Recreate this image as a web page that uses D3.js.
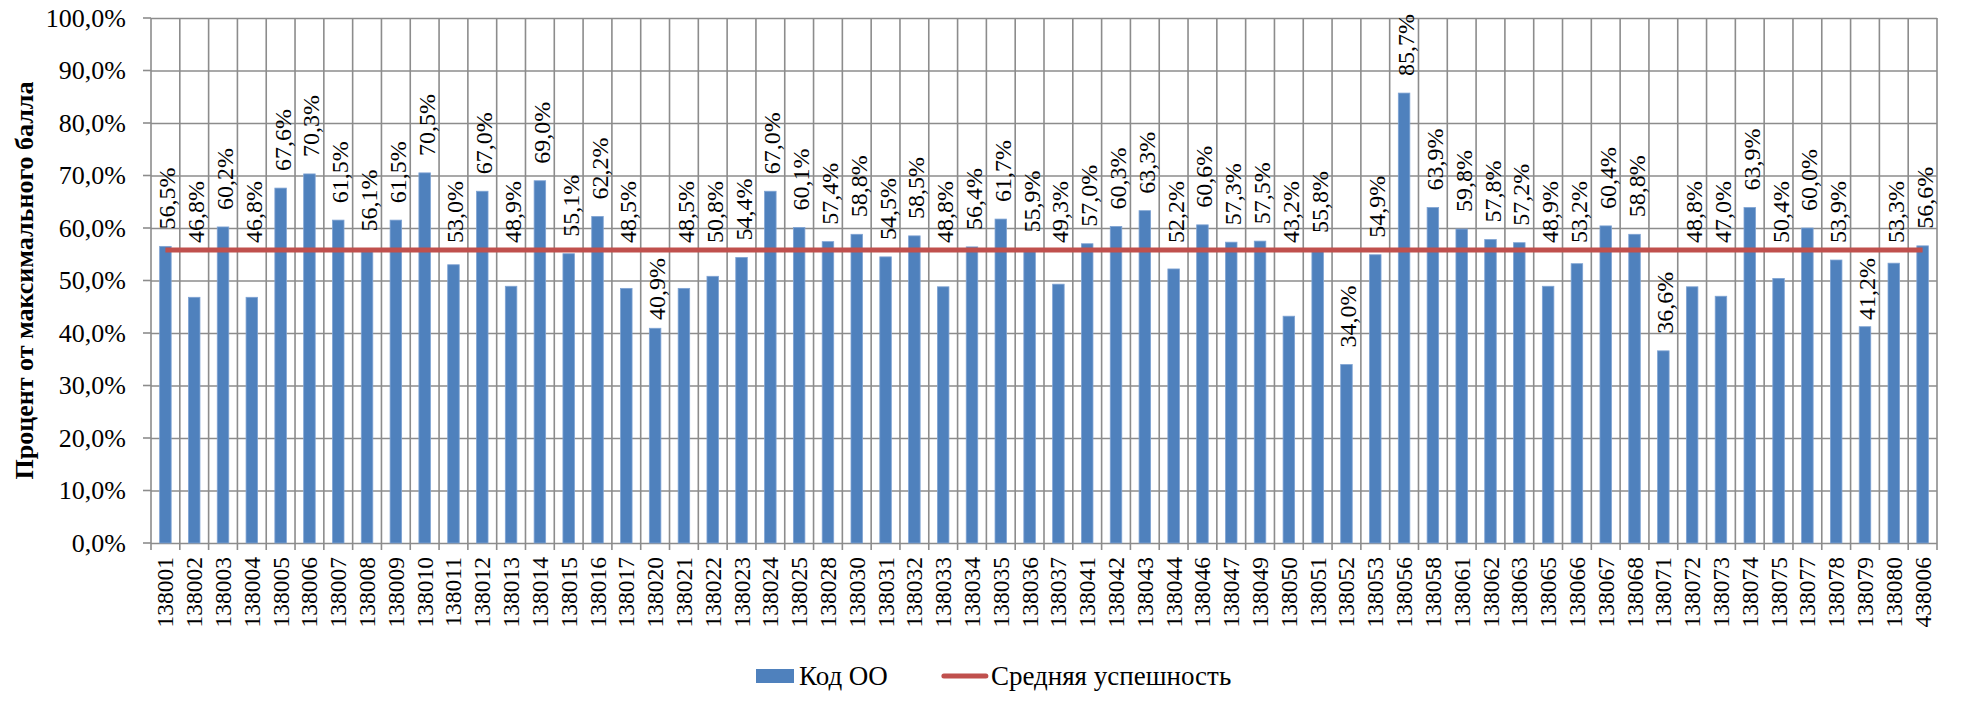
<!DOCTYPE html>
<html>
<head>
<meta charset="utf-8">
<script src="https://cdn.jsdelivr.net/npm/d3@7"></script>
<style>
  body { margin: 0; background: #fff; }
  text { font-family: "Liberation Serif", "Times New Roman", "DejaVu Serif", serif; }
</style>
</head>
<body>
<svg width="1974" height="710"></svg>
<script>
// school codes
var codes = ["138001","138002","138003","138004","138005","138006","138007","138008","138009","138010",
  "138011","138012","138013","138014","138015","138016","138017","138020","138021","138022",
  "138023","138024","138025","138028","138030","138031","138032","138033","138034","138035",
  "138036","138037","138041","138042","138043","138044","138046","138047","138049","138050",
  "138051","138052","138053","138056","138058","138061","138062","138063","138065","138066",
  "138067","138068","138071","138072","138073","138074","138075","138077","138078","138079",
  "138080","438006"];

// percent of max score
var scores = [56.5,46.8,60.2,46.8,67.6,70.3,61.5,56.1,61.5,70.5,
  53.0,67.0,48.9,69.0,55.1,62.2,48.5,40.9,48.5,50.8,
  54.4,67.0,60.1,57.4,58.8,54.5,58.5,48.8,56.4,61.7,
  55.9,49.3,57.0,60.3,63.3,52.2,60.6,57.3,57.5,43.2,
  55.8,34.0,54.9,85.7,63.9,59.8,57.8,57.2,48.9,53.2,
  60.4,58.8,36.6,48.8,47.0,63.9,50.4,60.0,53.9,41.2,
  53.3,56.6];

// average line value
var average = 55.8;

var yTicks = [0,10,20,30,40,50,60,70,80,90,100];
var seriesNames = ["Код ОО", "Средняя успешность"];

var FONT = "Liberation Serif, Times New Roman, DejaVu Serif, serif";

function main() {
  var svg = d3.select("svg").attr("font-family", FONT);
  var left = 151, right = 1937, top = 18, bottom = 543;
  var gridColor = "#8c8c8c";
  var blue = "#4f81bd", red = "#c0504d";
  var fmt = function(v) { return v.toFixed(1).replace(".", ",") + "%"; };

  var x = d3.scaleBand().domain(codes).range([left, right]).paddingInner(0).paddingOuter(0);
  var y = d3.scaleLinear().domain([0, 100]).range([bottom, top]);

  var data = codes.map(function(c, i) { return {code: c, value: scores[i]}; });

  // horizontal grid + y ticks
  svg.append("g")
    .attr("transform", "translate(" + left + ",0)")
    .call(d3.axisLeft(y).tickValues(yTicks).tickSize(-(right - left)).tickSizeOuter(0)
      .tickFormat(function(d) { return d.toFixed(1).replace(".", ",") + "%"; }))
    .call(function(g) {
      g.attr("font-family", FONT).attr("font-size", null);
      g.select(".domain").remove();
      g.selectAll(".tick line").attr("stroke", gridColor).attr("stroke-width", 1.6);
      g.selectAll(".tick text").attr("x", -25).attr("font-size", "26px")
        .attr("fill", "#000");
    });
  // small left tick stubs
  svg.append("g").selectAll("line").data(yTicks).enter().append("line")
    .attr("x1", left - 8).attr("x2", left)
    .attr("y1", function(d) { return y(d); }).attr("y2", function(d) { return y(d); })
    .attr("stroke", gridColor).attr("stroke-width", 1.6);

  // vertical grid lines at category boundaries
  var bounds = codes.map(function(c) { return x(c); }).concat([right]);
  svg.append("g").selectAll("line").data(bounds).enter().append("line")
    .attr("x1", function(d) { return d; }).attr("x2", function(d) { return d; })
    .attr("y1", top).attr("y2", bottom + 7)
    .attr("stroke", gridColor).attr("stroke-width", 1.6);

  // bars
  var bw = x.bandwidth() * 0.4;
  svg.append("g").selectAll("rect").data(data).enter().append("rect")
    .attr("x", function(d) { return x(d.code) + (x.bandwidth() - bw) / 2; })
    .attr("y", function(d) { return y(d.value); })
    .attr("width", bw)
    .attr("height", function(d) { return bottom - y(d.value); })
    .attr("fill", blue)
    .attr("stroke", "#7fa3d3").attr("stroke-width", 0.8);

  // average line
  var line = d3.line()
    .x(function(d) { return x(d) + x.bandwidth() / 2; })
    .y(function() { return y(average); });
  svg.append("path")
    .datum(codes)
    .attr("d", line)
    .attr("fill", "none")
    .attr("stroke", red)
    .attr("stroke-width", 5);

  // data labels (rotated), kept off the average line
  var lineY = y(average);
  var labels = svg.append("g");
  data.forEach(function(d) {
    var cx = x(d.code) + x.bandwidth() / 2;
    var t = labels.append("text")
      .attr("font-size", "24px")
      .attr("fill", "#000")
      .text(fmt(d.value));
    var len = t.node().getComputedTextLength();
    var barTop = y(d.value);
    var b = barTop - 17;
    var tp = b - len;
    if (tp < lineY + 5 && b > lineY - 5) {
      if (barTop - 4 - len >= lineY + 6) {
        b = Math.min(lineY + 8 + len, barTop - 6);
      } else {
        b = lineY - 7;
      }
    }
    t.attr("transform", "translate(" + (cx + 10) + "," + b + ") rotate(-90)");
  });

  // x labels
  svg.append("g").selectAll("text").data(codes).enter().append("text")
    .attr("transform", function(d) {
      return "translate(" + (x(d) + x.bandwidth() / 2 + 8) + "," + (bottom + 14) + ") rotate(-90)";
    })
    .attr("text-anchor", "end")
    .attr("font-size", "23.5px")
    .attr("fill", "#000")
    .text(function(d) { return d; });

  // y axis title
  svg.append("text")
    .attr("transform", "translate(33," + ((top + bottom) / 2) + ") rotate(-90)")
    .attr("text-anchor", "middle")
    .attr("font-size", "26px")
    .attr("font-weight", "bold")
    .text("Процент от максимального балла");

  // legend
  var lg = svg.append("g");
  var ly = 676;
  lg.append("rect").attr("x", 756).attr("y", ly - 7).attr("width", 38).attr("height", 14).attr("fill", blue);
  var t1 = lg.append("text").attr("x", 799).attr("y", ly + 9).attr("font-size", "27px").text(seriesNames[0]);
  var x2 = 799 + t1.node().getComputedTextLength() + 56;
  lg.append("line").attr("x1", x2).attr("x2", x2 + 42).attr("y1", ly).attr("y2", ly)
    .attr("stroke", red).attr("stroke-width", 5).attr("stroke-linecap", "round");
  lg.append("text").attr("x", x2 + 47).attr("y", ly + 9).attr("font-size", "27px").text(seriesNames[1]);
}
main();
</script>
</body>
</html>
